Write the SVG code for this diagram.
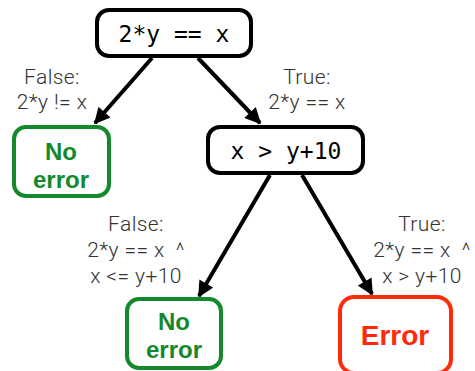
<svg xmlns="http://www.w3.org/2000/svg" width="475" height="371" viewBox="0 0 475 371">
<defs>
<style>
.box{fill:#fff;stroke-width:4}
.dec{stroke:#000}
.ok{stroke:#14892c}
.err{stroke:#ff2a0a}
.mono{font-family:"DejaVu Sans Mono",monospace;font-size:23px;fill:#000;text-anchor:middle}
.lbl{font-family:Roboto,"Liberation Sans",sans-serif;font-weight:300;font-size:21px;letter-spacing:0.4px;fill:#333;text-anchor:middle}
.okt{font-family:"Liberation Sans",Arial,sans-serif;font-weight:bold;font-size:24px;fill:#14892c;text-anchor:middle}
.errt{font-family:"Liberation Sans",Arial,sans-serif;font-weight:bold;font-size:28px;fill:#ff2a0a;text-anchor:middle}
.edge{stroke:#000;stroke-width:4;fill:none}
</style>
<marker id="ah" viewBox="0 0 10 10" refX="9" refY="5" markerWidth="4.2" markerHeight="4" markerUnits="strokeWidth" orient="auto">
<path d="M0,0 L10,5 L0,10 z" fill="#000"/>
</marker>
</defs>
<g id="connectors">
<line class="edge" x1="152" y1="58" x2="95" y2="123" marker-end="url(#ah)"/>
<line class="edge" x1="198" y1="58" x2="260" y2="123" marker-end="url(#ah)"/>
<line class="edge" x1="270" y1="175" x2="199" y2="296" marker-end="url(#ah)"/>
<line class="edge" x1="302" y1="175" x2="372" y2="294" marker-end="url(#ah)"/>
<text class="lbl" x="52" y="84">False:</text>
<text class="lbl" x="52" y="109">2*y != x</text>
<text class="lbl" x="307" y="84">True:</text>
<text class="lbl" x="307" y="109">2*y == x</text>
<text class="lbl" x="136" y="231">False:</text>
<text class="lbl" x="136" y="257" xml:space="preserve">2*y == x  ^</text>
<text class="lbl" x="136" y="283">x &lt;= y+10</text>
<text class="lbl" x="422" y="231">True:</text>
<text class="lbl" x="422" y="257" xml:space="preserve">2*y == x  ^</text>
<text class="lbl" x="422" y="283">x &gt; y+10</text>
</g>
<g id="root">
<rect class="box dec" x="97" y="10" width="154" height="46" rx="12"/>
<text class="mono" x="174" y="42" xml:space="preserve">2*y == x</text>
</g>
<g id="noerror1">
<rect class="box ok" x="14" y="127" width="95" height="69" rx="12"/>
<text class="okt" x="61" y="160">No</text>
<text class="okt" x="61" y="188">error</text>
</g>
<g id="cond2">
<rect class="box dec" x="208" y="127" width="155" height="46" rx="12"/>
<text class="mono" x="286" y="159" xml:space="preserve">x &gt; y+10</text>
</g>
<g id="noerror2">
<rect class="box ok" x="127" y="299" width="94" height="69" rx="12"/>
<text class="okt" x="174" y="330">No</text>
<text class="okt" x="174" y="358">error</text>
</g>
<g id="error">
<rect class="box err" x="340" y="297" width="111" height="76" rx="14"/>
<text class="errt" x="395" y="345">Error</text>
</g>
</svg>
